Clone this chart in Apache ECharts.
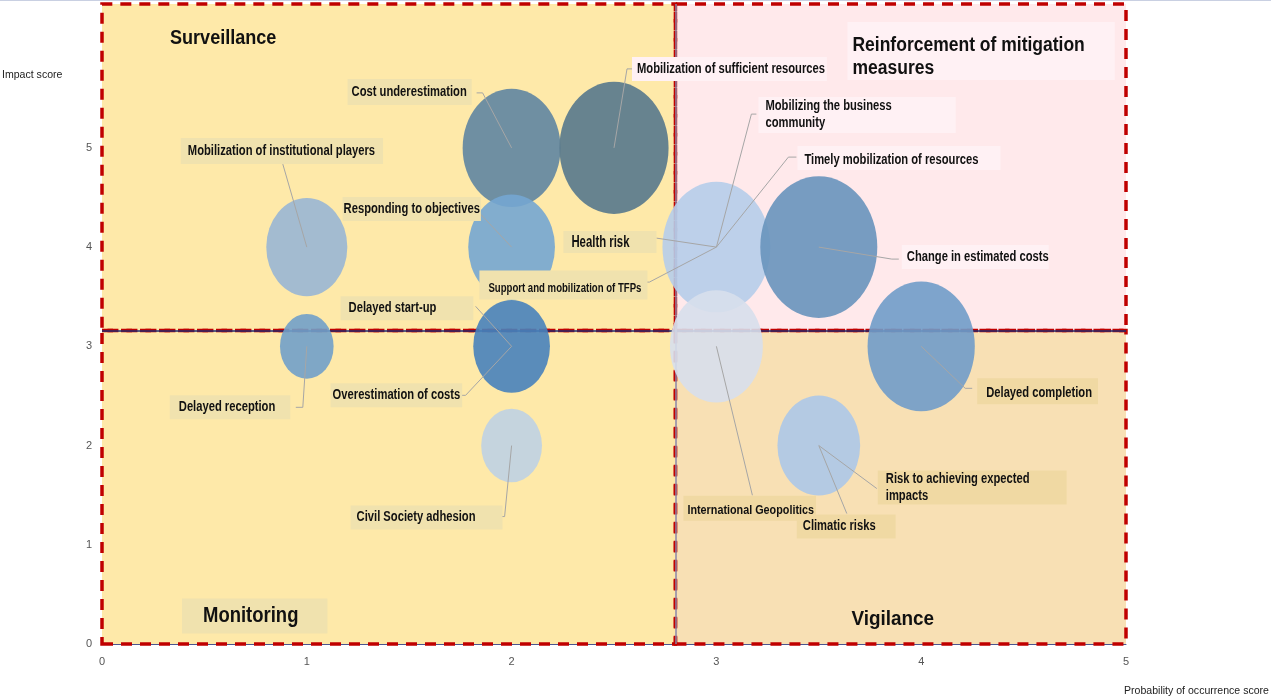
<!DOCTYPE html>
<html>
<head>
<meta charset="utf-8">
<script src="https://cdn.jsdelivr.net/npm/echarts@6/dist/echarts.min.js"></script>
<style>
  html, body { margin: 0; padding: 0; background: #fff; }
  #chart { width: 1271px; height: 698px; }
</style>
</head>
<body>
<div id="chart"></div>
<script>
// bubbles: probability (x), impact (y), relative bubble weight
const probability = [1, 1, 2, 2, 2, 2, 2.5, 3, 3.5, 3, 4, 3.5]
const impact = [4, 3, 5, 4, 3, 2, 5, 4, 4, 3, 3, 2]
const weight = [4.8, 2.1, 7.0, 5.5, 4.3, 2.7, 8.7, 8.5, 10, 6.3, 8.4, 5.0]

// risks and the bubble each one points at
const riskNames = [
  'Mobilization of institutional players',
  'Delayed reception',
  'Cost underestimation',
  'Responding to objectives',
  'Delayed start-up',
  'Overestimation of costs',
  'Civil Society adhesion',
  'Mobilization of sufficient resources',
  'Mobilizing the business\ncommunity',
  'Timely mobilization of resources',
  'Health risk',
  'Support and mobilization of TFPs',
  'Change in estimated costs',
  'International Geopolitics',
  'Delayed completion',
  'Risk to achieving expected\nimpacts',
  'Climatic risks'
]
const riskBubble = [0, 1, 2, 3, 4, 4, 5, 6, 7, 7, 7, 7, 8, 9, 10, 11, 11]

const quadrantTitles = ['Surveillance', 'Reinforcement of mitigation\nmeasures', 'Monitoring', 'Vigilance']

const xTicks = [0, 1, 2, 3, 4, 5]
const yTicks = [0, 1, 2, 3, 4, 5]

// quadrant split and axis top
const QX = 2.8
const QY = 3.16
const Y_MAX = 6.45

const FONT = "'Liberation Sans', Arial, sans-serif"
const SX = 0.8 // the original text is horizontally squeezed

const bubbleColors = ['#99b6d4', '#71a0c9', '#5f85a1', '#74a6d1', '#4882bb', '#bfd2e3',
  '#57788c', '#b6cdea', '#6893bc', '#d7dfec', '#709cc9', '#acc8e8']

const TAN = '#f0e2ae'
const PINK = '#fff1f4'
const OCHRE = '#f0d9a3'

// label boxes: offset from bubble centre to box left / box middle (px),
// padding [t, r, b, l], leader line points
const labelLayout = [
  { dx: -126, dy: -96, pad: [5, 8, 5, 7], bg: TAN, line: [[-24, -83]] },
  { dx: -137, dy: 61, pad: [4, 15, 4, 9], bg: TAN, line: [[-11, 61], [-4, 61]] },
  { dx: -164, dy: -56, pad: [5, 5, 5, 4], bg: TAN, line: [[-35, -55], [-29, -55]] },
  { dx: -169, dy: -38, pad: [4, 1, 4, 1], bg: TAN, line: [[-33, -35]] },
  { dx: -171, dy: -38, pad: [4, 37, 4, 8], bg: TAN, line: [[-36, -40]] },
  { dx: -181, dy: 49, pad: [4, 2, 4, 2], bg: TAN, line: [[-53, 49], [-46, 49]] },
  { dx: -161, dy: 72, pad: [4, 27, 4, 6], bg: TAN, line: [[-14, 71], [-7, 71]] },
  { dx: 18, dy: -79, pad: [4, 2, 4, 5], bg: PINK, line: [[18, -79], [13, -79]] },
  { dx: 42, dy: -132, pad: [1, 64, 1, 7], bg: PINK, lh: 17, line: [[40, -133], [35, -133]] },
  { dx: 81, dy: -89, pad: [6, 22, 2, 7], bg: PINK, line: [[80, -90], [72, -90]] },
  { dx: -153, dy: -5, pad: [3, 27, 3, 8], bg: TAN, size: 16, sx: 0.71, line: [[-60, -9]] },
  { dx: -237, dy: 38, pad: [10, 6, 3, 9], bg: TAN, size: 12, line: [[-72, 35], [-67, 35]] },
  { dx: 83, dy: 10, pad: [4, 0, 4, 5], bg: PINK, line: [[80, 12], [73, 12]] },
  { dx: -33, dy: 162, pad: [6, 2, 3, 4], bg: OCHRE, size: 13.5, line: [[36, 149]] },
  { dx: 56, dy: 45, pad: [7, 6, 3, 9], bg: OCHRE, line: [[51, 42], [44, 42]] },
  { dx: 59, dy: 42, pad: [0, 37, 0, 8], bg: OCHRE, lh: 17, line: [[58, 43]] },
  { dx: -22, dy: 81, pad: [4, 20, 4, 6], bg: OCHRE, line: [[28, 68]] }
]

// quadrant titles: offset from quadrant corner
const titleLayout = [
  { dx: 68, dy: 34, size: 21, sx: 0.86, pad: [0, 0, 0, 0] },
  { dx: 172, dy: 47, size: 20, sx: 0.875, lh: 23, pad: [12, 30, 0, 5], bg: PINK },
  { dx: 80, dy: -28, size: 22, sx: 0.84, lh: 23, pad: [6, 29, 6, 21], bg: TAN },
  { dx: 176, dy: -25, size: 21, sx: 0.9, pad: [0, 0, 0, 0] }
]

const ELLIPSE = 'path://M50,0 A50,50 0 1,1 50,100 A50,50 0 1,1 50,0 Z'

function squeezePad (pad, sx) {
  return [pad[0], pad[1] / sx, pad[2], pad[3] / sx]
}

// top of a text box whose vertical middle sits at midY
function boxTop (midY, pad, lh, text) {
  return midY - (pad[0] + pad[2] + lh * text.split('\n').length) / 2
}

function boxedText (c, L, text, sx, size, lh) {
  return {
    type: 'text', x: c[0] + L.dx, y: boxTop(c[1] + L.dy, L.pad, lh, text), scaleX: sx,
    style: {
      text: text, fill: '#111',
      fontSize: size, fontWeight: 'bold', fontFamily: FONT,
      lineHeight: lh,
      backgroundColor: L.bg || null, padding: squeezePad(L.pad, sx),
      align: 'left', verticalAlign: 'top'
    }
  }
}

const chart = echarts.init(document.getElementById('chart'))

const border = { borderColor: '#c00000', borderWidth: 3.5, borderType: [11, 8] }
const clear = 'rgba(0,0,0,0)'

const option = {
  animation: false,
  grid: { left: 102, right: 145, top: 4, bottom: 54 },
  xAxis: {
    type: 'value', min: 0, max: 5, interval: 1,
    axisLine: { lineStyle: { color: '#4a5590', width: 1 } },
    axisTick: { show: false },
    splitLine: { show: false },
    axisLabel: {
      color: '#555', fontSize: 11, fontFamily: FONT, margin: 12,
      formatter: v => xTicks.indexOf(v) >= 0 ? String(v) : ''
    }
  },
  yAxis: {
    type: 'value', min: 0, max: Y_MAX, interval: 1,
    axisLine: { show: true, lineStyle: { color: '#4a5590', width: 1 } },
    axisTick: { show: false },
    splitLine: { show: false },
    axisLabel: {
      color: '#555', fontSize: 11, fontFamily: FONT, margin: 10,
      showMaxLabel: false,
      formatter: v => yTicks.indexOf(v) >= 0 ? String(v) : ''
    }
  },
  graphic: [
    { type: 'line', shape: { x1: 0, y1: 0.5, x2: 1271, y2: 0.5 }, style: { stroke: '#c9d0e2', lineWidth: 1 } },
    { type: 'text', left: 2, top: 69, scaleX: 0.96, style: { text: 'Impact score', fill: '#222', font: '11px ' + FONT } },
    { type: 'text', left: 1124, top: 685, scaleX: 0.96, style: { text: 'Probability of occurrence score', fill: '#222', font: '11px ' + FONT } }
  ],
  series: [
    {
      // quadrant fills
      type: 'scatter', data: [], z: 1, silent: true,
      markArea: {
        silent: true,
        data: [
          [{ xAxis: 0, yAxis: QY, itemStyle: { color: '#fee9a9' } }, { xAxis: QX, yAxis: Y_MAX }],
          [{ xAxis: QX, yAxis: QY, itemStyle: { color: '#ffe9eb' } }, { xAxis: 5, yAxis: Y_MAX }],
          [{ xAxis: 0, yAxis: 0, itemStyle: { color: '#fee9a9' } }, { xAxis: QX, yAxis: QY }],
          [{ xAxis: QX, yAxis: 0, itemStyle: { color: '#f8e0b4' } }, { xAxis: 5, yAxis: QY }]
        ]
      }
    },
    {
      // thin divider lines under the dashes
      type: 'scatter', data: [], z: 2, silent: true,
      markLine: {
        silent: true, symbol: 'none', label: { show: false },
        data: [
          { yAxis: QY, lineStyle: { color: '#1f2a6e', width: 1.5, type: 'solid' } },
          { xAxis: QX, lineStyle: { color: '#8a86a6', width: 1.5, type: 'solid' } }
        ]
      }
    },
    {
      // dashed quadrant frames
      type: 'scatter', data: [], z: 3, silent: true,
      markArea: {
        silent: true,
        itemStyle: Object.assign({ color: clear }, border),
        data: [
          [{ xAxis: 0, yAxis: QY }, { xAxis: QX, yAxis: Y_MAX }],
          [{ xAxis: QX, yAxis: QY }, { xAxis: 5, yAxis: Y_MAX }],
          [{ xAxis: 0, yAxis: 0 }, { xAxis: QX, yAxis: QY }],
          [{ xAxis: QX, yAxis: 0 }, { xAxis: 5, yAxis: QY }]
        ]
      }
    },
    {
      // quadrant titles, anchored at each quadrant's outer corner
      type: 'custom', z: 4, clip: false, silent: true,
      data: [[0, Y_MAX], [QX, Y_MAX], [0, 0], [QX, 0]],
      renderItem: function (params, api) {
        const i = params.dataIndex
        const T = titleLayout[i]
        const c = api.coord([api.value(0), api.value(1)])
        return boxedText(c, T, quadrantTitles[i], T.sx, T.size, T.lh || T.size + 2)
      }
    },
    {
      type: 'scatter', z: 5,
      symbol: ELLIPSE,
      symbolSize: function (val) {
        const d = 117 * Math.sqrt(val[2] / 10)
        return [d, d * 1.21]
      },
      data: probability.map((x, i) => ({
        value: [x, impact[i], weight[i]],
        itemStyle: { color: bubbleColors[i], opacity: 0.9 }
      }))
    },
    {
      type: 'custom', z: 6, clip: false, silent: true,
      data: riskNames.map((n, i) => [probability[riskBubble[i]], impact[riskBubble[i]]]),
      renderItem: function (params, api) {
        const i = params.dataIndex
        const L = labelLayout[i]
        const c = api.coord([api.value(0), api.value(1)])
        const pts = L.line.map(p => [c[0] + p[0], c[1] + p[1]])
        pts.push(c)
        return {
          type: 'group',
          children: [
            { type: 'polyline', shape: { points: pts }, style: { stroke: '#a6a6a6', lineWidth: 1, fill: null } },
            boxedText(c, L, riskNames[i], L.sx || SX, L.size || 14, L.lh || 16)
          ]
        }
      }
    }
  ]
}

chart.setOption(option)
</script>
</body>
</html>
